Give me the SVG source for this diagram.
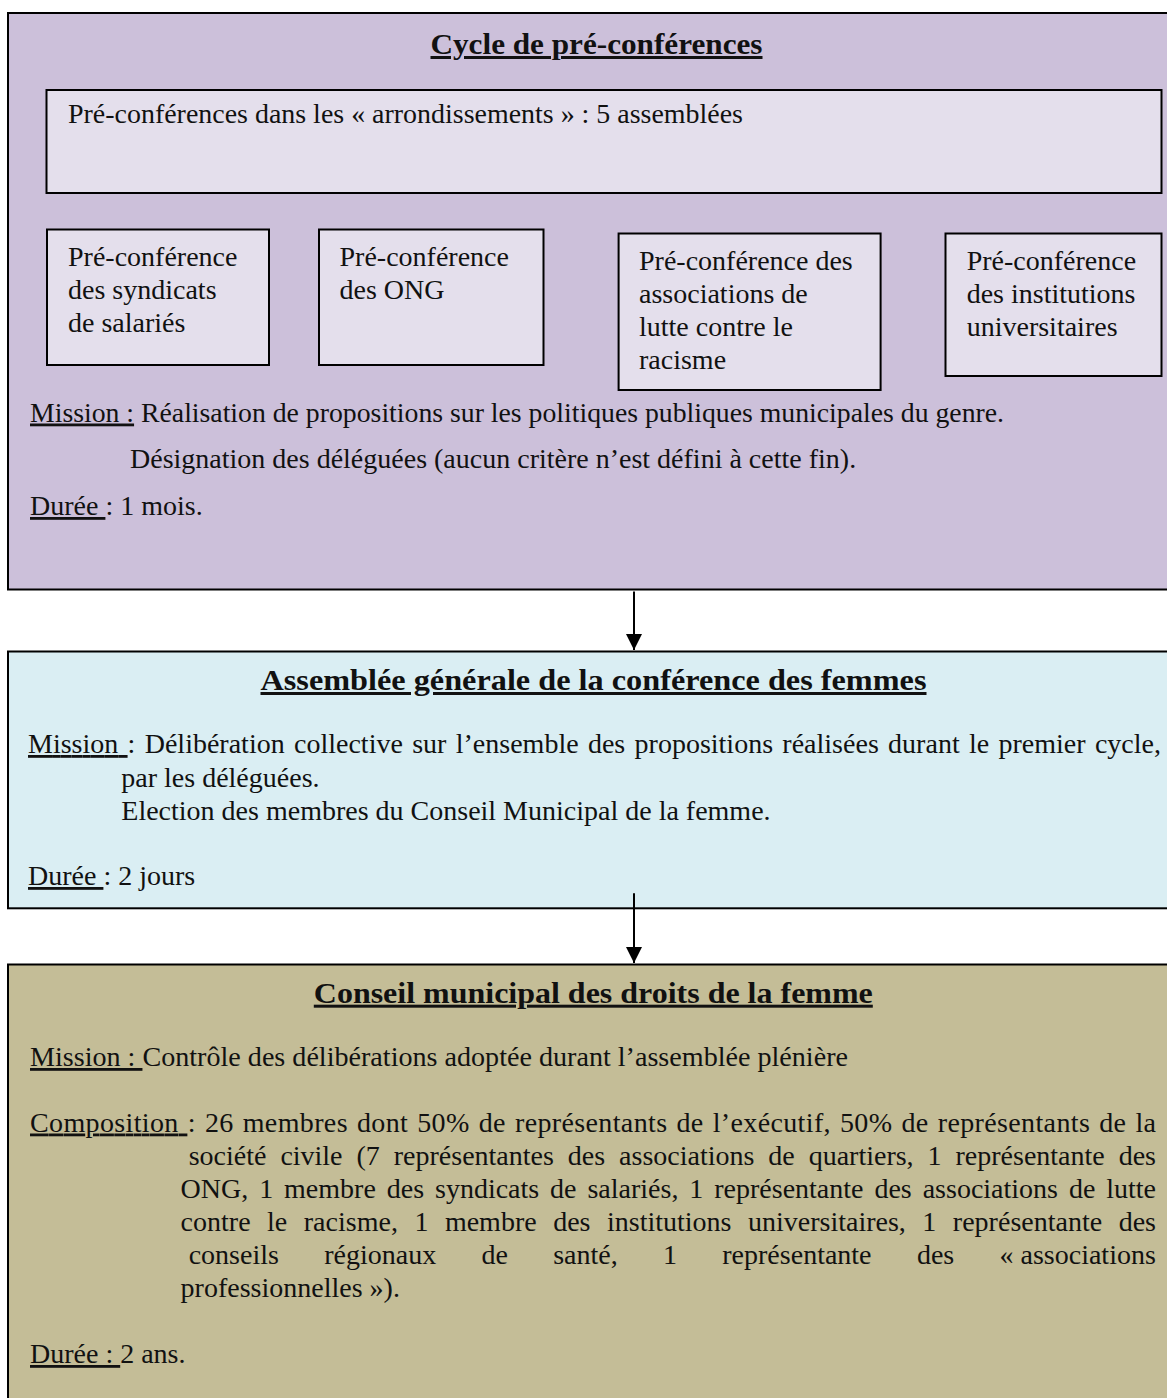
<svg xmlns="http://www.w3.org/2000/svg" width="1167" height="1398" viewBox="0 0 1167 1398">
<defs>
<style>
.t{font-family:"Liberation Serif","Times New Roman",serif;font-size:28px;fill:#111}
.h{font-weight:bold;font-size:30px;text-decoration:underline}
.u{text-decoration:underline}
.box{stroke:#000;stroke-width:2}
.p1{fill:#ccc0da}
.p2{fill:#e4dfec}
.b2{fill:#daeef3}
.b3{fill:#c4bd97}
.con{stroke:#000;stroke-width:2;fill:none}
</style>
<marker id="ah" markerWidth="16" markerHeight="16" viewBox="0 0 16 16" refX="16" refY="8" orient="auto" markerUnits="userSpaceOnUse">
<path d="M0,0 L16,8 L0,16 Z" fill="#000"/>
</marker>
</defs>
<rect width="1167" height="1398" fill="#fff"/>

<g id="cycle">
<rect class="box p1" x="8" y="13" width="1170" height="576.5"/>
<text class="t h" x="430.5" y="54" textLength="332" lengthAdjust="spacingAndGlyphs">Cycle de pré-conférences</text>
<g id="arrondissements">
<rect class="box p2" x="46.5" y="90" width="1115" height="103"/>
<text class="t" x="68" y="123" textLength="675" lengthAdjust="spacingAndGlyphs">Pré-conférences dans les « arrondissements » : 5 assemblées</text>
</g>
<g id="syndicats">
<rect class="box p2" x="47" y="229.5" width="222" height="135.5"/>
<text class="t" x="68" y="265.5">Pré-conférence</text>
<text class="t" x="68" y="298.5">des syndicats</text>
<text class="t" x="68" y="331.5">de salariés</text>
</g>
<g id="ong">
<rect class="box p2" x="319" y="229.5" width="224.5" height="135.5"/>
<text class="t" x="339.5" y="265.5">Pré-conférence</text>
<text class="t" x="339.5" y="298.5">des ONG</text>
</g>
<g id="racisme">
<rect class="box p2" x="618.6" y="233.5" width="262" height="156.5"/>
<text class="t" x="639" y="270">Pré-conférence des</text>
<text class="t" x="639" y="303">associations de</text>
<text class="t" x="639" y="336">lutte contre le</text>
<text class="t" x="639" y="369">racisme</text>
</g>
<g id="universitaires">
<rect class="box p2" x="945.5" y="233.5" width="216" height="142.5"/>
<text class="t" x="966.7" y="270">Pré-conférence</text>
<text class="t" x="966.7" y="303">des institutions</text>
<text class="t" x="966.7" y="336">universitaires</text>
</g>
<text class="t" x="30" y="421.5" textLength="974" lengthAdjust="spacingAndGlyphs"><tspan class="u">Mission :</tspan> Réalisation de propositions sur les politiques publiques municipales du genre.</text>
<text class="t" x="130" y="468">Désignation des déléguées (aucun critère n’est défini à cette fin).</text>
<text class="t" x="30" y="515"><tspan class="u">Durée </tspan>: 1 mois.</text>
</g>

<g id="assemblee">
<rect class="box b2" x="8" y="651.5" width="1170" height="256.8"/>
<text class="t h" x="260.5" y="690" textLength="666" lengthAdjust="spacingAndGlyphs">Assemblée générale de la conférence des femmes</text>
<text class="t" x="28" y="753" textLength="1133" lengthAdjust="spacing" word-spacing="2.3"><tspan class="u">Mission </tspan>: Délibération collective sur l’ensemble des propositions réalisées durant le premier cycle,</text>
<text class="t" x="121.3" y="786.7">par les déléguées.</text>
<text class="t" x="121.3" y="820">Election des membres du Conseil Municipal de la femme.</text>
<text class="t" x="28" y="885"><tspan class="u">Durée </tspan>: 2 jours</text>
</g>

<g id="conseil">
<rect class="box b3" x="8" y="964.5" width="1170" height="450"/>
<text class="t h" x="313.8" y="1002.7" textLength="559" lengthAdjust="spacingAndGlyphs">Conseil municipal des droits de la femme</text>
<text class="t" x="30" y="1066" textLength="818" lengthAdjust="spacingAndGlyphs"><tspan class="u">Mission : </tspan>Contrôle des délibérations adoptée durant l’assemblée plénière</text>
<text class="t" x="30" y="1131.5" textLength="1126" lengthAdjust="spacing" word-spacing="1.7"><tspan class="u">Composition </tspan>: 26 membres dont 50% de représentants de l’exécutif, 50% de représentants de la</text>
<text class="t" x="188.7" y="1164.5" textLength="967.3" lengthAdjust="spacing" word-spacing="7">société civile (7 représentantes des associations de quartiers, 1 représentante des</text>
<text class="t" x="180.6" y="1197.5" textLength="975.4" lengthAdjust="spacing" word-spacing="3.9">ONG, 1 membre des syndicats de salariés, 1 représentante des associations de lutte</text>
<text class="t" x="180.6" y="1230.5" textLength="975.4" lengthAdjust="spacing" word-spacing="9.5">contre le racisme, 1 membre des institutions universitaires, 1 représentante des</text>
<text class="t" y="1263.5"><tspan x="188.7">conseils</tspan><tspan x="324.2">régionaux</tspan><tspan x="481.5">de</tspan><tspan x="553.2">santé,</tspan><tspan x="663">1</tspan><tspan x="722.3">représentante</tspan><tspan x="916.9">des</tspan><tspan x="999.5">« associations</tspan></text>
<text class="t" x="180.6" y="1296.5">professionnelles »).</text>
<text class="t" x="30" y="1363"><tspan class="u">Durée : </tspan>2 ans.</text>
</g>

<g id="connectors">
<line class="con" x1="634" y1="591.5" x2="634" y2="650" marker-end="url(#ah)"/>
<line class="con" x1="634" y1="893.3" x2="634" y2="963" marker-end="url(#ah)"/>
</g>
</svg>
